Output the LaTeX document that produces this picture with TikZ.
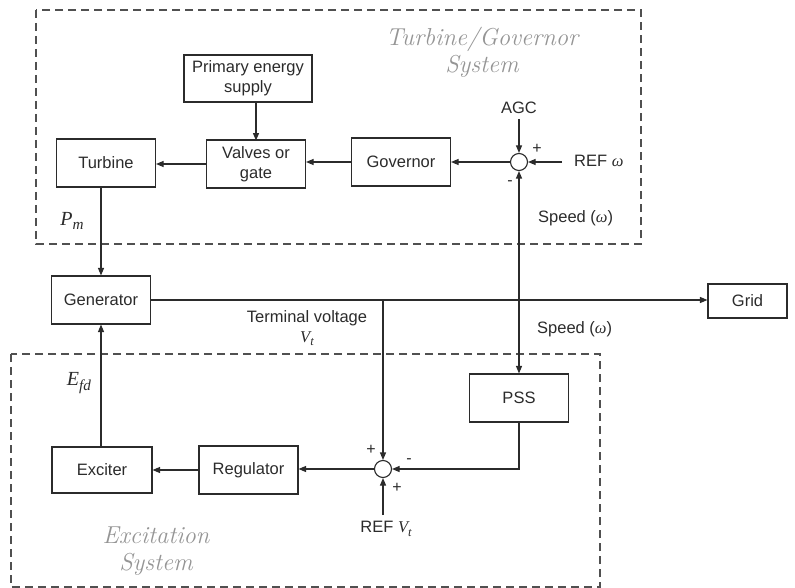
\documentclass[tikz,border=0pt]{standalone}
\usepackage{fontspec}
\setsansfont{Liberation Sans}
\newfontfamily\varserif{Liberation Serif}
\usetikzlibrary{arrows.meta,calc}

\definecolor{ink}{HTML}{2B2B2B}
\definecolor{sysgray}{HTML}{959595}
\definecolor{frame}{HTML}{505050}

% italic serif symbol with an optional lowered index
\newcommand{\symb}[2]{{\varserif\itshape #1\raisebox{-0.22em}{\fontsize{0.76em}{1em}\selectfont #2}}}

\tikzset{
  blk/.style={draw=ink, line width=1.1pt, minimum width=99pt, minimum height=48pt,
    inner sep=2pt, font=\fontsize{16.5}{20}\sffamily, text=ink, align=center},
  sumpt/.style={circle, draw=ink, line width=1.1pt, minimum size=17pt, inner sep=0pt},
  lbl/.style={font=\fontsize{16.5}{20}\sffamily, text=ink, inner sep=0pt, align=center},
  sgn/.style={font=\fontsize{16}{16}\sffamily, text=ink, inner sep=0pt},
  var/.style={font=\fontsize{20}{20}\selectfont, text=ink, inner sep=0pt},
  sys/.style={font=\fontsize{24.5}{28}\selectfont\itshape, text=sysgray, align=center, inner sep=0pt},
  wire/.style={draw=ink, line width=1.1pt},
  arr/.style={wire, -{Triangle[length=7.5pt,width=6pt]}},
  region/.style={draw=frame, line width=1.1pt, dash pattern=on 8pt off 5pt},
}

\begin{document}
\begin{tikzpicture}[x=1pt,y=-1pt]
\useasboundingbox (0,0) rectangle (795,588);

% subsystem frames
\draw[region] (36,10) rectangle (641,244);
\draw[region] (11,354) rectangle (600,587);
\node[sys] (tgsys) at (482,52) {Turbine/Governor\\[-1pt]System};
\node[sys] (exsys) at (156,551) {Excitation\\[-1pt]System};

% turbine / governor loop
\node[blk, minimum width=128pt, minimum height=47pt] (primary) at (248,78.5) {Primary energy\\supply};
\node[blk] (turbine) at (106,163) {Turbine};
\node[blk] (valves) at (256,164) {Valves or\\gate};
\node[blk] (governor) at (401,162) {Governor};
\node[sumpt] (sum1) at (519,162) {};
\node[lbl] (agc) at (519,108) {AGC};
\node[lbl, anchor=west] (refw) at (574,163) {REF \symb{ω}{}};
\coordinate (agcin) at (519,119);
\coordinate (refwin) at (562,162);
\node[sgn] (p1) at (537,149) {+};
\node[sgn] (m1) at (510,183) {-};
\node[lbl, anchor=west] (spd1) at (538,218) {Speed (\symb{ω}{})};

\draw[arr] (agcin) -- (sum1.north);
\draw[arr] (refwin) -- (sum1.east);
\draw[arr] (sum1.west) -- (governor.east |- sum1.west);
\draw[arr] (governor.west) -- (valves.east |- governor.west);
\draw[arr] (valves.north |- primary.south) -- ++(0,38);
\draw[arr] (valves.west) -- (turbine.east |- valves.west);

% generator and grid
\node[blk] (generator) at (101,300) {Generator};
\node[blk, minimum width=79pt, minimum height=34pt] (grid) at (747.5,301) {Grid};
\node[var] (pm) at (72,221) {\symb{P}{m}};
\draw[arr] (generator.north |- turbine.south) -- (generator.north);
\draw[arr] (generator.east) -- (grid.west |- generator.east);
\node[lbl] (tv) at (307,328) {Terminal voltage\\\symb{V}{t}};
\node[lbl, anchor=west] (spd2) at (537,329) {Speed (\symb{ω}{})};

% excitation loop
\node[blk] (pss) at (519,398) {PSS};
\node[blk] (regulator) at (248.5,470) {Regulator};
\node[blk, minimum width=100pt, minimum height=46pt] (exciter) at (102,470) {Exciter};
\node[sumpt] (sum2) at (383,469) {};
\node[lbl] (refvt) at (386,529) {REF \symb{V}{t}};
\coordinate (refvtin) at (383,515);
\coordinate (tvtap) at (383,300);
\node[sgn] (p2) at (371,450) {+};
\node[sgn] (m2) at (409,461) {-};
\node[sgn] (p3) at (397,488) {+};
\node[var] (efd) at (79,383) {\symb{E}{fd}};

\draw[wire, {Triangle[length=7.5pt,width=6pt]}-{Triangle[length=7.5pt,width=6pt]}] (sum1.south) -- (pss.north);
\draw[arr] (tvtap) -- (sum2.north);
\draw[arr] (pss.south) |- (sum2.east);
\draw[arr] (refvtin) -- (sum2.south);
\draw[arr] (sum2.west) -- (regulator.east |- sum2.west);
\draw[arr] (regulator.west) -- (exciter.east |- regulator.west);
\draw[arr] (exciter.north -| generator.south) -- (generator.south);
\end{tikzpicture}
\end{document}
